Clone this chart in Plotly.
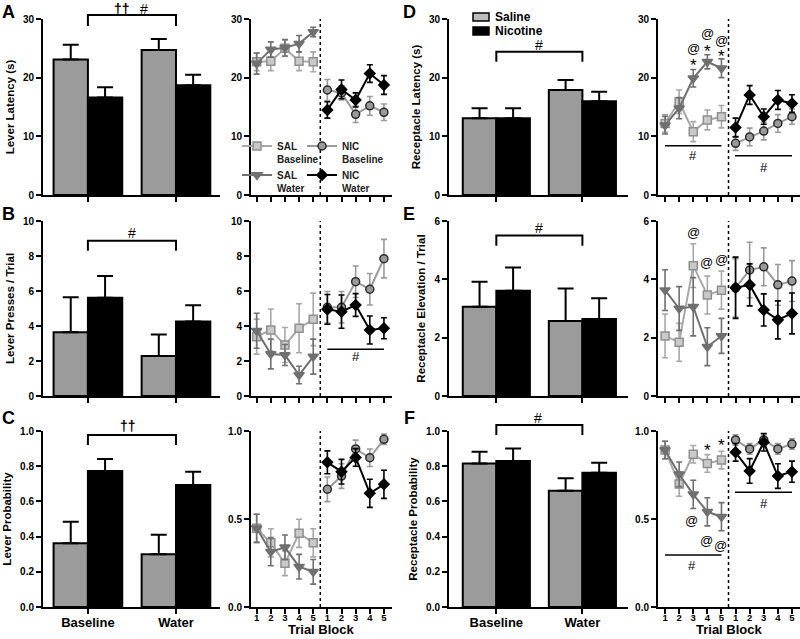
import plotly.graph_objects as go

FONT = "Liberation Sans, Arial, sans-serif"

# ------------------------------------------------------------------ data
groups = ["Baseline", "Water"]
group_pos = [0, 1]
block_pos_sal = [1, 2, 3, 4, 5]
block_pos_nic = [6, 7, 8, 9, 10]
block_tickvals = [1, 2, 3, 4, 5, 6, 7, 8, 9, 10]
block_ticktext = ["1", "2", "3", "4", "5", "1", "2", "3", "4", "5"]
x_title_line = "Trial Block"

# bar panels: mean and SEM for [Baseline, Water]
lever_lat_sal = [23.1, 24.7]
lever_lat_sal_err = [2.5, 1.9]
lever_lat_nic = [16.6, 18.7]
lever_lat_nic_err = [1.75, 1.8]
lever_press_sal = [3.64, 2.29]
lever_press_sal_err = [2.0, 1.23]
lever_press_nic = [5.62, 4.25]
lever_press_nic_err = [1.24, 0.93]
lever_prob_sal = [0.362, 0.30]
lever_prob_sal_err = [0.123, 0.11]
lever_prob_nic = [0.773, 0.693]
lever_prob_nic_err = [0.068, 0.076]
rec_lat_sal = [13.07, 17.9]
rec_lat_sal_err = [1.7, 1.7]
rec_lat_nic = [13.1, 16.0]
rec_lat_nic_err = [1.7, 1.6]
rec_elev_sal = [3.06, 2.57]
rec_elev_sal_err = [0.86, 1.12]
rec_elev_nic = [3.61, 2.64]
rec_elev_nic_err = [0.8, 0.71]
rec_prob_sal = [0.816, 0.661]
rec_prob_sal_err = [0.066, 0.07]
rec_prob_nic = [0.83, 0.763]
rec_prob_nic_err = [0.07, 0.057]

# line panels: trial blocks 1-5
lat_sal_base = [22.7, 22.8, 25.0, 22.8, 22.7]
lat_sal_base_err = [1.5, 1.6, 1.4, 1.6, 1.7]
lat_sal_water = [22.4, 24.8, 25.1, 25.8, 27.8]
lat_sal_water_err = [1.8, 1.3, 1.4, 1.4, 0.8]
lat_nic_base = [17.9, 17.4, 13.75, 15.2, 14.1]
lat_nic_base_err = [1.8, 1.2, 1.4, 1.6, 1.4]
lat_nic_water = [14.5, 18.0, 16.2, 20.7, 18.75]
lat_nic_water_err = [1.4, 1.6, 1.2, 1.5, 1.6]

press_sal_base = [3.39, 3.77, 2.91, 3.87, 4.38]
press_sal_base_err = [1.0, 1.2, 1.0, 1.4, 1.5]
press_sal_water = [3.73, 2.4, 2.34, 1.2, 2.25]
press_sal_water_err = [1.0, 0.85, 0.6, 0.5, 1.0]
press_nic_base = [5.07, 5.07, 6.53, 6.1, 7.85]
press_nic_base_err = [0.9, 0.9, 0.9, 0.9, 1.1]
press_nic_water = [4.95, 4.82, 5.2, 3.77, 3.87]
press_nic_water_err = [0.85, 0.95, 0.65, 0.8, 0.6]

prob_sal_base = [0.447, 0.365, 0.248, 0.419, 0.365]
prob_sal_base_err = [0.08, 0.08, 0.07, 0.08, 0.08]
prob_sal_water = [0.447, 0.314, 0.339, 0.229, 0.2]
prob_sal_water_err = [0.08, 0.08, 0.07, 0.07, 0.07]
prob_nic_base = [0.669, 0.744, 0.898, 0.848, 0.953]
prob_nic_base_err = [0.07, 0.07, 0.05, 0.05, 0.03]
prob_nic_water = [0.822, 0.769, 0.85, 0.646, 0.697]
prob_nic_water_err = [0.065, 0.07, 0.05, 0.08, 0.08]

rlat_sal_base = [12.2, 15.9, 10.8, 12.8, 13.35]
rlat_sal_base_err = [1.5, 2.0, 1.7, 1.7, 1.9]
rlat_sal_water = [11.9, 14.8, 19.9, 22.7, 21.6]
rlat_sal_water_err = [1.5, 1.8, 1.5, 1.2, 1.6]
rlat_nic_base = [8.8, 9.9, 10.9, 12.2, 13.35]
rlat_nic_base_err = [1.2, 1.5, 1.5, 1.5, 1.3]
rlat_nic_water = [11.5, 17.05, 13.35, 16.2, 15.6]
rlat_nic_water_err = [1.6, 1.6, 1.3, 1.6, 1.5]

elev_sal_base = [2.06, 1.84, 4.47, 3.46, 3.63]
elev_sal_base_err = [0.75, 0.65, 0.75, 0.65, 0.65]
elev_sal_water = [3.63, 3.0, 3.06, 1.69, 2.06]
elev_sal_water_err = [0.7, 0.75, 1.0, 0.65, 0.6]
elev_nic_base = [3.71, 4.32, 4.43, 3.81, 3.94]
elev_nic_base_err = [1.0, 0.95, 0.65, 0.7, 0.7]
elev_nic_water = [3.71, 3.81, 2.95, 2.61, 2.83]
elev_nic_water_err = [1.05, 0.72, 0.55, 0.65, 0.7]

rprob_sal_base = [0.892, 0.699, 0.868, 0.816, 0.835]
rprob_sal_base_err = [0.05, 0.07, 0.05, 0.05, 0.05]
rprob_sal_water = [0.892, 0.754, 0.64, 0.541, 0.513]
rprob_sal_water_err = [0.05, 0.07, 0.08, 0.08, 0.08]
rprob_nic_base = [0.949, 0.898, 0.949, 0.898, 0.926]
rprob_nic_base_err = [0.03, 0.03, 0.03, 0.03, 0.03]
rprob_nic_water = [0.879, 0.773, 0.936, 0.744, 0.769]
rprob_nic_water_err = [0.05, 0.07, 0.05, 0.07, 0.06]

y_titles = ["Lever Latency (s)", "Lever Presses / Trial", "Lever Probability",
            "Receptacle Latency (s)", "Receptacle Elevation / Trial", "Receptacle Probability"]
panel_letters = ["A", "B", "C", "D", "E", "F"]
bar_legend_names = ["Saline", "Nicotine"]

# ------------------------------------------------------------------ layout geometry
W, H = 800, 639
col_dom = {
    "barL": [43 / W, 220 / W],
    "lineL": [251 / W, 392 / W],
    "barR": [449 / W, 628 / W],
    "lineR": [658 / W, 1.0],
}
row_dom = [[1 - 195 / H, 1 - 19 / H], [1 - 396 / H, 1 - 221 / H], [1 - 607 / H, 1 - 431 / H]]
bar_xrange = {"barL": [-0.51, 1.50], "barR": [-0.55, 1.53]}
line_xrange = {"lineL": [0.6, 10.57], "lineR": [0.5, 10.57]}

left_panels = [
    dict(bar=(lever_lat_sal, lever_lat_sal_err, lever_lat_nic, lever_lat_nic_err),
         line=(lat_sal_base, lat_sal_base_err, lat_sal_water, lat_sal_water_err,
               lat_nic_base, lat_nic_base_err, lat_nic_water, lat_nic_water_err),
         yr=[0, 30], ticks=[0, 10, 20, 30], ltick=[0, 10, 20, 30], fmt=None),
    dict(bar=(lever_press_sal, lever_press_sal_err, lever_press_nic, lever_press_nic_err),
         line=(press_sal_base, press_sal_base_err, press_sal_water, press_sal_water_err,
               press_nic_base, press_nic_base_err, press_nic_water, press_nic_water_err),
         yr=[0, 10], ticks=[0, 2, 4, 6, 8, 10], ltick=[0, 2, 4, 6, 8, 10], fmt=None),
    dict(bar=(lever_prob_sal, lever_prob_sal_err, lever_prob_nic, lever_prob_nic_err),
         line=(prob_sal_base, prob_sal_base_err, prob_sal_water, prob_sal_water_err,
               prob_nic_base, prob_nic_base_err, prob_nic_water, prob_nic_water_err),
         yr=[0, 1], ticks=[0, 0.2, 0.4, 0.6, 0.8, 1.0], ltick=[0, 0.5, 1.0], fmt=".1f"),
]
right_panels = [
    dict(bar=(rec_lat_sal, rec_lat_sal_err, rec_lat_nic, rec_lat_nic_err),
         line=(rlat_sal_base, rlat_sal_base_err, rlat_sal_water, rlat_sal_water_err,
               rlat_nic_base, rlat_nic_base_err, rlat_nic_water, rlat_nic_water_err),
         yr=[0, 30], ticks=[0, 10, 20, 30], ltick=[0, 10, 20, 30], fmt=None),
    dict(bar=(rec_elev_sal, rec_elev_sal_err, rec_elev_nic, rec_elev_nic_err),
         line=(elev_sal_base, elev_sal_base_err, elev_sal_water, elev_sal_water_err,
               elev_nic_base, elev_nic_base_err, elev_nic_water, elev_nic_water_err),
         yr=[0, 6], ticks=[0, 2, 4, 6], ltick=[0, 2, 4, 6], fmt=None),
    dict(bar=(rec_prob_sal, rec_prob_sal_err, rec_prob_nic, rec_prob_nic_err),
         line=(rprob_sal_base, rprob_sal_base_err, rprob_sal_water, rprob_sal_water_err,
               rprob_nic_base, rprob_nic_base_err, rprob_nic_water, rprob_nic_water_err),
         yr=[0, 1], ticks=[0, 0.2, 0.4, 0.6, 0.8, 1.0], ltick=[0, 0.5, 1.0], fmt=".1f"),
]

SAL_BAR = "#9b9b9b"
NIC_BAR = "#000000"
series_style = [
    dict(name="SAL<br>Baseline", line="#a8a8a8", symbol="square", mfill="#c9c9c9", mline="#8f8f8f", size=8),
    dict(name="SAL<br>Water", line="#707070", symbol="triangle-down", mfill="#707070", mline="#707070", size=9),
    dict(name="NIC<br>Baseline", line="#9a9a9a", symbol="circle", mfill="#9a9a9a", mline="#2a2a2a", size=8),
    dict(name="NIC<br>Water", line="#000000", symbol="diamond", mfill="#000000", mline="#000000", size=8),
]

fig = go.Figure()
axis_font = dict(family=FONT, size=10, color="black", weight="bold")
base_axis = dict(showline=True, linecolor="black", linewidth=2, ticks="outside", ticklen=5,
                 tickwidth=2, tickcolor="black", showgrid=False, zeroline=False,
                 tickfont=axis_font, automargin=False)
layout_axes = {}
annotations = []
shapes = []


def axname(n, letter):
    return letter if n == 1 else f"{letter}{n}"


def add_panel_set(r, side, pdef, letter, title):
    bar_key, line_key = ("barL", "lineL") if side == "L" else ("barR", "lineR")
    nb = 4 * r + (1 if side == "L" else 3)
    nl = nb + 1
    # --- bar panel
    sal, sal_e, nic, nic_e = pdef["bar"]
    for vals, errs, col, nm in [(sal, sal_e, SAL_BAR, bar_legend_names[0]),
                                (nic, nic_e, NIC_BAR, bar_legend_names[1])]:
        fig.add_trace(go.Bar(
            x=group_pos, y=vals, name=nm,
            marker=dict(color=col, line=dict(color="black", width=2)),
            error_y=dict(type="data", array=errs, arrayminus=[0] * len(errs), symmetric=False,
                         color="black", thickness=2, width=8),
            xaxis=axname(nb, "x"), yaxis=axname(nb, "y"), showlegend=False,
        ))
    layout_axes[axname(nb, "xaxis")] = dict(
        base_axis, domain=col_dom[bar_key], anchor=axname(nb, "y"), range=bar_xrange[bar_key],
        tickvals=group_pos, ticktext=groups, showticklabels=(r == 2), ticklabelstandoff=-3,
        tickfont=dict(family=FONT, size=13, color="black", weight="bold"))
    layout_axes[axname(nb, "yaxis")] = dict(
        base_axis, domain=row_dom[r], anchor=axname(nb, "x"), range=pdef["yr"],
        tickvals=pdef["ticks"], tickformat=pdef["fmt"],
        title=dict(text=title, font=dict(family=FONT, size=11.5, color="black", weight="bold"), standoff=6))
    # --- line panel
    L = pdef["line"]
    xs = [block_pos_sal, block_pos_sal, block_pos_nic, block_pos_nic]
    for i in range(4):
        st = series_style[i]
        fig.add_trace(go.Scatter(
            x=xs[i], y=L[2 * i], mode="lines+markers", name=st["name"],
            line=dict(color=st["line"], width=2),
            marker=dict(symbol=st["symbol"], size=st["size"], color=st["mfill"],
                        line=dict(color=st["mline"], width=1.5)),
            error_y=dict(type="data", array=L[2 * i + 1], color=st["line"], thickness=1.6, width=3),
            xaxis=axname(nl, "x"), yaxis=axname(nl, "y"), cliponaxis=False,
            showlegend=(r == 0 and side == "L"), legend=("legend2" if i < 2 else "legend3"),
        ))
    layout_axes[axname(nl, "xaxis")] = dict(
        base_axis, domain=col_dom[line_key], anchor=axname(nl, "y"), range=line_xrange[line_key],
        tickvals=block_tickvals, ticktext=block_ticktext, showticklabels=(r == 2), ticklabelstandoff=-4,
        tickfont=dict(family=FONT, size=9.5, color="black", weight="bold"))
    layout_axes[axname(nl, "yaxis")] = dict(
        base_axis, domain=row_dom[r], anchor=axname(nl, "x"), range=pdef["yr"],
        tickvals=pdef["ltick"], tickformat=pdef["fmt"])
    if r == 2:
        dom = col_dom[line_key]
        annotations.append(dict(text=x_title_line, x=(dom[0] + dom[1]) / 2, y=0,
                                xref="paper", yref="paper", showarrow=False,
                                xanchor="center", yanchor="bottom",
                                font=dict(family=FONT, size=13, color="black", weight="bold")))
    # dotted separator between saline and nicotine blocks
    shapes.append(dict(type="line", xref=axname(nl, "x"), yref=axname(nl, "y") + " domain",
                       x0=5.5, x1=5.5, y0=0, y1=1, line=dict(color="black", width=1.5, dash="dot")))
    # panel letter
    lx = (8.5 if side == "L" else 409) / W
    ly = 1 - [0, 202, 406][r] / H
    annotations.append(dict(text=letter, x=lx, y=ly, xref="paper", yref="paper", showarrow=False,
                            font=dict(family=FONT, size=18, color="black", weight="bold"),
                            xanchor="center", yanchor="top"))
    return nb, nl


panel_axes = {}
for r in range(3):
    panel_axes[panel_letters[r]] = add_panel_set(r, "L", left_panels[r], panel_letters[r], y_titles[r])
    panel_axes[panel_letters[r + 3]] = add_panel_set(r, "R", right_panels[r], panel_letters[r + 3], y_titles[r + 3])

# ------------------------------------------------------------------ significance marks
yranges = {"A": 30, "B": 10, "C": 1.0, "D": 30, "E": 6, "F": 1.0}


def frac(p, v):
    return v / yranges[p]


def text_mark(p, which, x, y, txt, size=14, bold=False):
    n = panel_axes[p][0 if which == "bar" else 1]
    f = dict(family=FONT, size=size, color="#000000")
    if bold:
        f["weight"] = "bold"
    annotations.append(dict(text=txt, x=x, y=frac(p, y), xref=axname(n, "x"), yref=axname(n, "y") + " domain",
                            showarrow=False, font=f, xanchor="center", yanchor="middle"))


def hline(p, x0, x1, y):
    n = panel_axes[p][1]
    shapes.append(dict(type="line", xref=axname(n, "x"), yref=axname(n, "y") + " domain",
                       x0=x0, x1=x1, y0=frac(p, y), y1=frac(p, y), line=dict(color="black", width=1.5)))


def bracket(p, top, drop):
    n = panel_axes[p][0]
    shapes.append(dict(type="path", xref=axname(n, "x"), yref=axname(n, "y") + " domain",
                       path=f"M 0,{frac(p, drop)} L 0,{frac(p, top)} L 1,{frac(p, top)} L 1,{frac(p, drop)}",
                       line=dict(color="black", width=2)))


# bar brackets
bracket("A", 30.7, 28.8)
text_mark("A", "bar", 0.39, 31.7, "††", 14, bold=True)
text_mark("A", "bar", 0.64, 31.7, "#", 14)
bracket("B", 8.87, 8.3)
text_mark("B", "bar", 0.5, 9.31, "#", 14)
bracket("C", 0.977, 0.92)
text_mark("C", "bar", 0.45, 1.03, "††", 14, bold=True)
bracket("D", 24.4, 22.7)
text_mark("D", "bar", 0.5, 25.6, "#", 14)
bracket("E", 5.5, 5.15)
text_mark("E", "bar", 0.5, 5.76, "#", 14)
bracket("F", 1.034, 0.977)
text_mark("F", "bar", 0.48, 1.074, "#", 14)

# line panel marks
hline("B", 6, 10, 2.67)
text_mark("B", "line", 8, 2.25, "#", 13)
hline("D", 1, 5, 8.4)
text_mark("D", "line", 3, 6.8, "#", 13)
hline("D", 5.96, 10, 6.7)
text_mark("D", "line", 8, 4.77, "#", 13)
for x, ya, ys in [(3, 25.0, 22.0), (4, 27.56, 24.5), (5, 26.3, 23.6)]:
    text_mark("D", "line", x, ya, "@", 13)
    text_mark("D", "line", x, ys, "*", 17)
text_mark("E", "line", 3, 5.61, "@", 13)
text_mark("E", "line", 3.97, 4.57, "@", 13)
text_mark("E", "line", 5, 4.69, "@", 13)
hline("F", 1, 5, 0.295)
text_mark("F", "line", 2.9, 0.235, "#", 13)
hline("F", 5.96, 10, 0.652)
text_mark("F", "line", 8, 0.589, "#", 13)
text_mark("F", "line", 4, 0.89, "*", 17)
text_mark("F", "line", 5, 0.915, "*", 17)
text_mark("F", "line", 2.9, 0.494, "@", 13)
text_mark("F", "line", 3.96, 0.38, "@", 13)
text_mark("F", "line", 4.95, 0.352, "@", 13)

# Saline / Nicotine key (swatches + labels, paper coordinates)
key_rows = [(13, 21, "#bdbdbd"), (27, 35, "#000000")]
for (ytop, ybot, col), nm in zip(key_rows, bar_legend_names):
    shapes.append(dict(type="rect", xref="paper", yref="paper", x0=473 / W, x1=489 / W,
                       y0=1 - ybot / H, y1=1 - ytop / H, fillcolor=col, line=dict(color="black", width=1.5)))
    annotations.append(dict(text=nm, x=493 / W, y=1 - (ytop + ybot) / 2 / H, xref="paper", yref="paper",
                            showarrow=False, xanchor="left", yanchor="middle",
                            font=dict(family=FONT, size=12, color="black", weight="bold")))

leg_font = dict(family=FONT, size=10, color="#222222", weight="bold")
fig.update_layout(
    width=W, height=H, margin=dict(l=0, r=0, t=0, b=0),
    paper_bgcolor="white", plot_bgcolor="white",
    barmode="group", bargap=0.22, bargroupgap=0,
    font=dict(family=FONT, color="black"),
    annotations=annotations, shapes=shapes,
    legend2=dict(x=237 / W, y=1 - 133 / H, xanchor="left", yanchor="top", bgcolor="rgba(0,0,0,0)",
                 font=leg_font, valign="top", tracegroupgap=0),
    legend3=dict(x=302 / W, y=1 - 133 / H, xanchor="left", yanchor="top", bgcolor="rgba(0,0,0,0)",
                 font=leg_font, valign="top", tracegroupgap=0),
    **layout_axes,
)

fig.write_html("out.html", config={"displayModeBar": False},
               post_script="document.body.style.margin='0px';document.body.style.overflow='hidden';")
